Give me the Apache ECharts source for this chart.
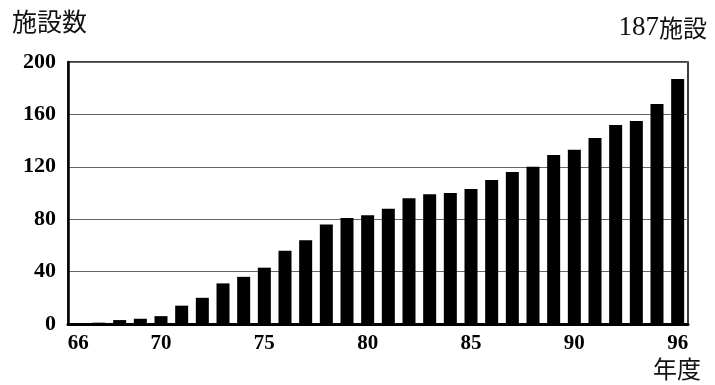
<!DOCTYPE html>
<html>
<head>
<meta charset="utf-8">
<script src="https://cdn.jsdelivr.net/npm/echarts@6/dist/echarts.min.js"></script>
<style>
html,body{margin:0;padding:0;background:#fff;}
#c{width:715px;height:385px;}
</style>
</head>
<body>
<div id="c"></div>
<script>
// category slots along the x axis (as drawn in the reference)
const years = ['66','67','68','69','70','71','72','73','74','75','76','77','78','79','80',
               '81','82','83','84','85','86','87','88','89','90','91','92','93','94','96'];
// number of facilities per year
const facilities = [null,1,3,4,6,14,20,31,36,43,56,64,76,81,83,
                    88,96,99,100,103,110,116,120,129,133,142,152,155,168,187];
// tick labels shown under the axis
const tickLabels = ['66','','','','70','','','','','75','','','','','80',
                    '','','','','85','','','','','90','','','','','96'];
const yTicks = [0,40,80,120,160,200];

const serif = '"Liberation Serif","DejaVu Serif",serif';
const cjk = '"Noto Sans CJK JP","Noto Sans CJK SC",sans-serif';

const chart = echarts.init(document.getElementById('c'), null, {renderer:'canvas'});
chart.setOption({
  animation:false,
  backgroundColor:'#fff',
  title:[
    {text:'施設数', left:7, top:4, textStyle:{fontFamily:cjk, fontSize:25, fontWeight:'normal', color:'#111'}},
    {text:'{a|187}{b|施設}', right:3, top:9, textStyle:{fontWeight:'normal', rich:{
      a:{fontFamily:serif, fontSize:27, fontWeight:'normal', color:'#111'},
      b:{fontFamily:cjk, fontSize:24, fontWeight:'normal', color:'#111'}}}},
    {text:'年度', right:9, top:352, textStyle:{fontFamily:cjk, fontSize:24, fontWeight:'normal', color:'#111'}}
  ],
  grid:{left:68, right:27, top:62, bottom:61, show:true, borderColor:'#000', borderWidth:1.5, containLabel:false},
  xAxis:{
    type:'category', data:years, boundaryGap:true,
    axisLine:{show:true, lineStyle:{color:'#000', width:3}},
    axisTick:{show:false},
    axisLabel:{interval:0, margin:9, formatter:(v,i)=>tickLabels[i],
      fontFamily:serif, fontWeight:'bold', fontSize:21, color:'#000'}
  },
  yAxis:{
    type:'value', min:yTicks[0], max:yTicks[yTicks.length-1], interval:40,
    axisLine:{show:true, lineStyle:{color:'#000', width:2.5}},
    axisTick:{show:false},
    splitLine:{show:true, lineStyle:{color:'#666', width:1}},
    axisLabel:{margin:12, fontFamily:serif, fontWeight:'bold', fontSize:22, color:'#000'}
  },
  series:[{type:'bar', data:facilities, barWidth:13, itemStyle:{color:'#000'}}]
});
</script>
</body>
</html>
